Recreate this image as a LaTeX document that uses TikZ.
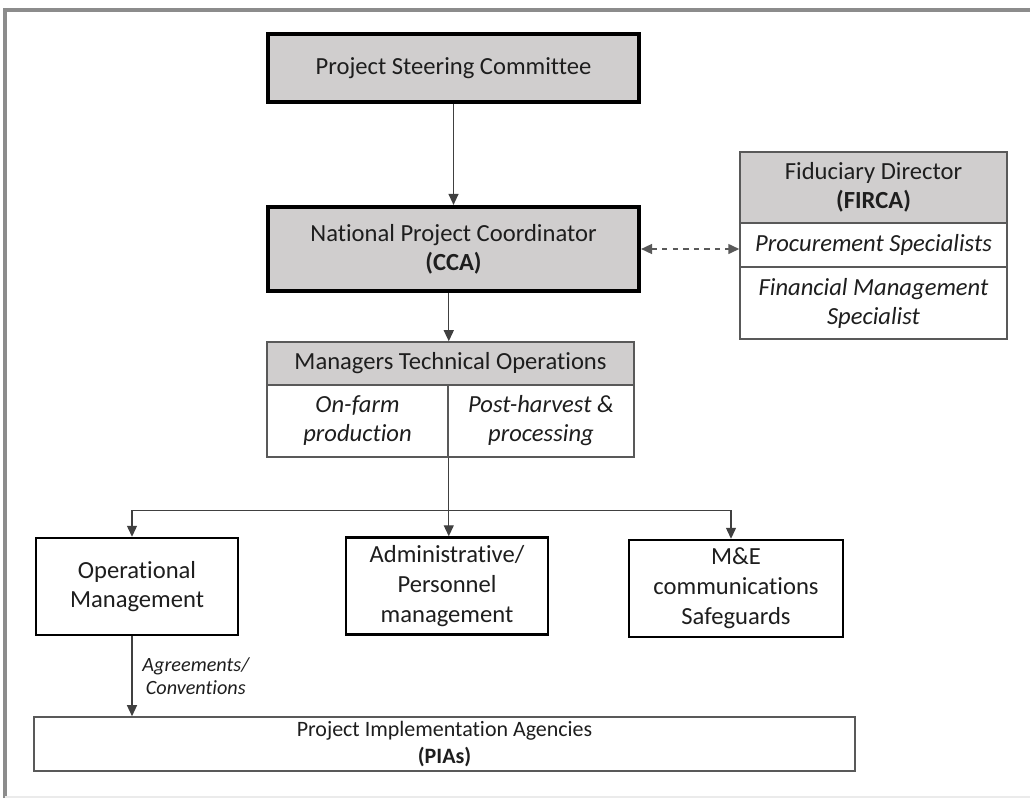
\documentclass[tikz,border=0pt]{standalone}
\usepackage{fontspec}
\setmainfont{Carlito}[Ligatures=NoCommon]
\usetikzlibrary{arrows.meta, positioning, calc}
\definecolor{boxGray}{HTML}{D0CECE}
\definecolor{edgeGray}{HTML}{595959}
\definecolor{frameGray}{HTML}{8C8C8C}
\definecolor{inkDark}{HTML}{1E1E1E}
\tikzset{
    % Boxes
    boldBox/.style={rectangle, draw=black, line width=2.4pt, fill=boxGray, align=center,
        inner sep=2pt, text=inkDark, font=\fontsize{14}{16.5}\selectfont},
    headCell/.style={rectangle, draw=edgeGray, line width=0.9pt, fill=boxGray, align=center,
        inner sep=2pt, text=inkDark, font=\fontsize{14}{16.5}\selectfont},
    subCell/.style={rectangle, draw=edgeGray, line width=0.9pt, fill=white, align=center,
        inner sep=2pt, text=inkDark, font=\fontsize{14}{16.5}\selectfont\itshape},
    unitBox/.style={rectangle, draw=black, line width=1.4pt, fill=white, align=center,
        minimum height=1.94cm, text=inkDark, font=\fontsize{14}{17}\selectfont},
    % Connectors
    arrowLine/.style={-{Triangle[length=2.2mm,width=2mm]}, line width=0.7pt, draw=black!75},
    dashLink/.style={{Triangle[length=2.2mm,width=2mm]}-{Triangle[length=2.2mm,width=2mm]},
        dashed, line width=0.9pt, draw=edgeGray},
    agreeLabel/.style={align=center, text=inkDark, font=\fontsize{11.5}{13}\selectfont\itshape}
}

\begin{document}
\begin{tikzpicture}[x=0.02cm, y=-0.02cm]
    \useasboundingbox (0,0) rectangle (1030,798);
    % frame
    \draw[frameGray, line width=2pt] (5,798) -- (5,10) -- (1030,10);
    \draw[black!8, line width=1pt] (5,797) -- (1030,797);

    % top of the chart
    \node[boldBox, minimum width=7.42cm, minimum height=1.36cm] (steerBox) at (453.5,68) {Project Steering Committee};
    \node[boldBox, minimum width=7.42cm, minimum height=1.68cm] (coordBox) at (453.5,249) {National Project Coordinator\\\textbf{(CCA)}};

    % fiduciary side
    \node[headCell, minimum width=5.34cm, minimum height=1.42cm] (fircaBox) at (873.5,187.5) {Fiduciary Director\\\textbf{(FIRCA)}};
    \node[subCell, minimum width=5.34cm, minimum height=0.88cm] (procBox) at (873.5,245) {Procurement Specialists};
    \node[subCell, minimum width=5.34cm, minimum height=1.44cm] (finBox) at (873.5,303) {Financial Management\\Specialist};

    % technical managers
    \node[headCell, minimum width=7.34cm, minimum height=0.86cm] (mgrHead) at (450.5,363.5) {Managers Technical Operations};
    \node[subCell, minimum width=3.62cm, minimum height=1.44cm] (farmBox) at (357.5,421) {On-farm\\production};
    \node[subCell, minimum width=3.72cm, minimum height=1.44cm] (postBox) at (541,421) {Post-harvest \&\\processing};

    % units
    \node[unitBox, minimum width=4.04cm] (opBox) at (137,586.5) {Operational\\Management};
    \node[unitBox, minimum width=4.04cm] (adminBox) at (447,586) {Administrative/\\Personnel\\management};
    \node[unitBox, minimum width=4.28cm] (meBox) at (736,588.5) {M\&E\\communications\\Safeguards};

    \node[headCell, fill=white, minimum width=16.42cm, minimum height=1.08cm, font=\fontsize{12.5}{15}\selectfont] (piaBox) at (444.5,744) {Project Implementation Agencies\\\textbf{(PIAs)}};

    % connectors
    \draw[arrowLine] (steerBox.south) -- (coordBox.north);
    \draw[arrowLine] (coordBox.south -| farmBox.south east) -- (mgrHead.north -| farmBox.south east);
    \draw[dashLink] (coordBox.east) -- (coordBox.east -| procBox.west);
    \coordinate (busJoin) at ($(farmBox.south east)+(0,53)$);
    \draw[arrowLine] (farmBox.south east) -- (farmBox.south east |- adminBox.north);
    \draw[arrowLine] (busJoin) -| ([xshift=-0.1cm]opBox.north);
    \draw[arrowLine] (busJoin) -| ([xshift=-0.1cm]meBox.north);
    \draw[arrowLine] ([xshift=-0.1cm]opBox.south) -- ([xshift=-0.1cm]opBox.south |- piaBox.north)
        node[midway, right=0.08cm, agreeLabel] {Agreements/\\Conventions};
\end{tikzpicture}
\end{document}
